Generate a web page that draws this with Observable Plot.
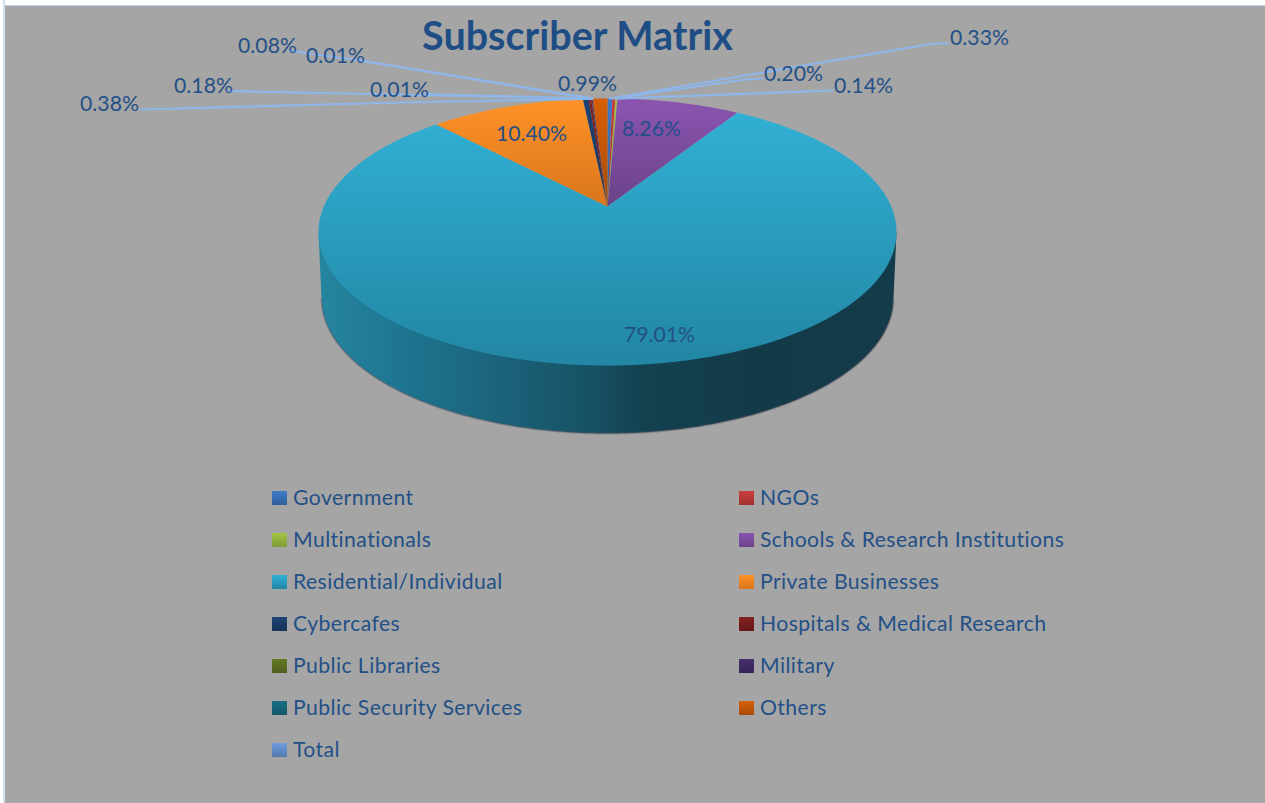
<!DOCTYPE html>
<html><head><meta charset="utf-8">
<script src="https://cdn.jsdelivr.net/npm/d3@7"></script>
<script src="https://cdn.jsdelivr.net/npm/@observablehq/plot@0.6"></script>
<style>
html,body{margin:0;padding:0;background:#fff;}
#page{position:relative;width:1265px;height:803px;overflow:hidden;background:#a5a5a5;font-family:Lato,"Open Sans",sans-serif;color:#235087;}
#page:before{content:"";position:absolute;left:0;top:0;width:1265px;height:5px;background:#fff;border-bottom:1px solid #bccfe8;}
#page:after{content:"";position:absolute;left:0;top:0;width:3px;height:803px;background:#fff;border-right:2px solid #d3dff0;}
#legend{display:grid;grid-template-columns:467px 467px;grid-auto-rows:42px;padding:7px 0 0 272px;}
.item{display:flex;align-items:center;font-size:21.2px;letter-spacing:.42px;white-space:nowrap;}
.sw{width:15px;height:14px;margin-right:6px;flex:none;}
.item span:last-child{position:relative;top:-1px;}
svg{display:block;}
</style></head><body><div id="page"><div id="chart"></div><div id="legend"></div></div>
<script>
// Data
const categories = ["Government","NGOs","Multinationals","Schools & Research Institutions","Residential/Individual","Private Businesses","Cybercafes","Hospitals & Medical Research","Public Libraries","Military","Public Security Services","Others","Total"];
const shares = [0.33,0.20,0.14,8.26,79.01,10.40,0.38,0.18,0.01,0.08,0.01,0.99,0];
const shareLabels = ["0.33%","0.20%","0.14%","8.26%","79.01%","10.40%","0.38%","0.18%","0.01%","0.08%","0.01%","0.99%",""];
const topColors = ["#3f7cc8","#cf3d3d","#a3c644","#8a55b0","#31b0d4","#ff9228","#1d4273","#842020","#647a24","#452f6e","#1a6f85","#d65f06","#6d9bdc"];
const bottomColors = ["#305f9c","#a03030","#7f9a35","#6b4289","#2286a4","#d9761c","#173459","#661818","#4e5f1c","#362556","#145768","#a94b05","#547aac"];

// Layout (separate from the data): label centres and leader elbows
const labelX = [979,793,863,651,659,531,109,203,399,267,335,587];
const labelY = [38,74,86,129,335,134,104,86,90,46,56,84];
const elbowX = [[948,933],[762,746],[832,820],null,null,null,[140,400],[228,345],[425,440],[288,360],[358,360],null];
const elbowY = [[43,43],[78,79],[90,90.5],null,null,null,[109,102],[90.5,93],[93,94],[50,60],[59.5,60],null];

// Perspective of the pie's top disc
const cx = 607, apexY = 206, persp = -0.191, depthY = 89.3, widthX = 283.7;
const project = (u, v) => {
  const d = 1 + persp * v;
  return {x: cx + widthX * u / d, y: (apexY + depthY * v) / d};
};
const rim = a => project(Math.sin(a), -Math.cos(a));

// Wedges from the values
const total = d3.sum(shares);
let acc = 0;
const wedges = categories.map((name, i) => {
  const a0 = acc / total * 2 * Math.PI;
  acc += shares[i];
  const a1 = acc / total * 2 * Math.PI;
  return {name, i, a0, a1, mid: (a0 + a1) / 2};
}).filter(w => w.a1 > w.a0);

const wedgePoints = w => {
  const n = Math.max(2, Math.ceil((w.a1 - w.a0) / 0.01));
  const pts = [project(0, 0)];
  for (let k = 0; k <= n; k++) pts.push(rim(w.a0 + (w.a1 - w.a0) * k / n));
  return pts;
};

// Side wall: silhouette of the lower rim
const wallCY = 298, wallRX = 286, wallRY = 135;
const wall = [{x: cx - 289, y: 232}];
for (let k = 0; k <= 180; k++) {
  const t = Math.PI * k / 180;
  wall.push({x: cx - wallRX * Math.cos(t), y: wallCY + wallRY * Math.sin(t)});
}
wall.push({x: cx + 289, y: 232});

const defs = () => {
  const svg = d3.create("svg:defs");
  const add = (id, stops, horiz) => {
    const g = svg.append("linearGradient").attr("id", id)
      .attr("x1", 0).attr("y1", 0).attr("x2", horiz ? 1 : 0).attr("y2", horiz ? 0 : 1);
    stops.forEach(([o, c]) => g.append("stop").attr("offset", o).attr("stop-color", c));
  };
  add("wallGrad", [[0,"#26859f"],[.12,"#1f7894"],[.3,"#1b647c"],[.45,"#175467"],[.56,"#134251"],[.75,"#133a49"],[1,"#143b4a"]], true);
  wedges.forEach(w => add("g" + w.i, [[0, topColors[w.i]], [1, bottomColors[w.i]]], false));
  return svg.node();
};

const labelled = shareLabels.map((t, i) => ({t, x: labelX[i], y: labelY[i]})).filter(d => d.t);
const leaders = [];
shares.forEach((s, i) => {
  if (!elbowX[i]) return;
  const w = wedges.find(w => w.i === i);
  const end = rim(w.mid);
  leaders.push({k: i, x: elbowX[i][0], y: elbowY[i][0]}, {k: i, x: elbowX[i][1], y: elbowY[i][1]}, {k: i, x: end.x, y: end.y});
});

const plot = Plot.plot({
  width: 1265, height: 470, margin: 0,
  x: {domain: [0, 1265], range: [0, 1265], axis: null},
  y: {domain: [0, 470], range: [0, 470], axis: null},
  style: {background: "transparent", fontFamily: "Lato, 'Open Sans', sans-serif"},
  marks: [
    defs,
    Plot.line(wall, {x: "x", y: "y", fill: "url(#wallGrad)", stroke: "none"}),
    Plot.line(wall.slice(1, -1), {x: "x", y: "y", stroke: "#5d5560", strokeWidth: 2, strokeOpacity: .4}),
    ...wedges.map(w => Plot.line(wedgePoints(w), {x: "x", y: "y", fill: `url(#g${w.i})`, stroke: "none"})),
    Plot.line(leaders, {x: "x", y: "y", z: "k", stroke: "#8fb6e8", strokeWidth: 2.2, curve: "linear"}),
    Plot.text(labelled, {x: "x", y: "y", text: "t", fontSize: 21.2, fill: "#235087"}),
    Plot.text(["Subscriber Matrix"], {x: () => 577, y: () => 37, text: d => d, fontSize: 39.5, fontWeight: "bold", fill: "#1f4e85"})
  ]
});
document.getElementById("chart").append(plot);

const legend = d3.select("#legend");
categories.forEach((name, i) => {
  const row = legend.append("div").attr("class", "item");
  row.append("span").attr("class", "sw").style("background", `linear-gradient(${topColors[i]},${bottomColors[i]})`);
  row.append("span").text(name);
});
</script></body></html>
